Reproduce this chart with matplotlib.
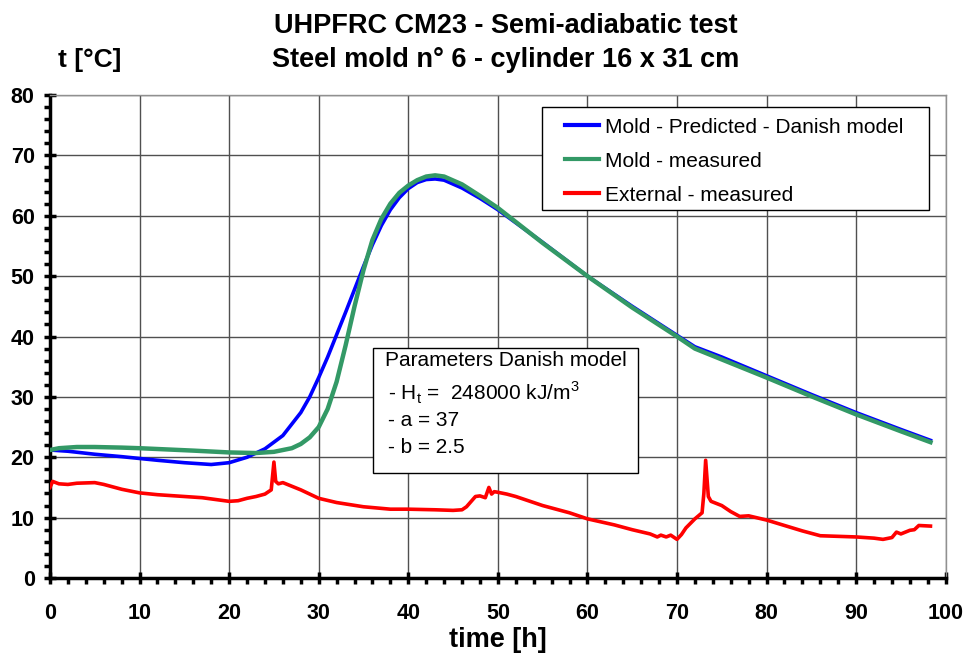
import matplotlib
matplotlib.use("Agg")
import matplotlib.pyplot as plt
from matplotlib.patches import Rectangle
from matplotlib.ticker import MultipleLocator

plt.rcParams['font.family'] = ['Liberation Sans', 'DejaVu Sans']

# Mold - predicted (Danish model)
t_pred = [0, 2, 5, 8, 10, 12, 15, 18, 20, 22, 24, 26, 28, 29, 30, 31, 32, 33, 34, 35, 36,
          37, 38, 39, 40, 41, 42, 43, 44, 46, 48, 50, 55, 60, 65, 70, 72, 75, 80, 85,
          90, 95, 98.3]
pred = [21.2, 21.0, 20.5, 20.1, 19.8, 19.5, 19.1, 18.8, 19.1, 20.0, 21.4, 23.6, 27.4, 30.0,
        33.2, 36.6, 40.3, 44.0, 47.8, 51.6, 55.2, 58.4, 61.0, 63.0, 64.5, 65.5, 66.0, 66.1,
        65.9, 64.6, 62.9, 61.0, 55.6, 50.0, 45.0, 40.2, 38.3, 36.6, 33.5, 30.4, 27.4,
        24.6, 22.8]

# Mold - measured
t_meas = [0, 1, 3, 5, 8, 10, 13, 16, 20, 23, 25, 27, 28, 29, 30, 31, 32, 33, 34, 35, 36,
          37, 38, 39, 40, 41, 42, 43, 44, 46, 48, 50, 55, 60, 65, 70, 72, 75, 80, 85,
          90, 95, 98.3]
meas = [21.2, 21.5, 21.7, 21.7, 21.6, 21.5, 21.3, 21.1, 20.8, 20.7, 20.9, 21.5, 22.2, 23.3,
        25.0, 28.0, 32.5, 38.5, 45.0, 51.0, 56.0, 59.5, 62.0, 63.8, 65.0, 65.9, 66.5,
        66.7, 66.5, 65.2, 63.3, 61.3, 55.5, 50.0, 44.8, 40.0, 38.0, 36.2, 33.2, 30.1,
        27.1, 24.3, 22.5]

# External - measured
t_ext = [0, 0.3, 1, 2, 3, 5, 6, 8, 10, 12, 15, 17, 19, 20, 21, 22, 23, 24, 24.7, 25.0,
         25.2, 25.5, 26, 27, 28, 30, 32, 35, 38, 40, 43, 45, 46, 46.5, 47.5, 48, 48.6,
         49.0, 49.3, 49.6, 50, 51, 52, 55, 58, 60, 63, 65, 67, 67.8, 68.2, 68.8, 69.3,
         70, 70.5, 71, 72, 72.8, 73.0, 73.2, 73.5, 73.8, 75, 76, 77, 78, 80, 82, 84, 86,
         88, 90, 92, 93, 94, 94.5, 95, 96, 96.5, 97, 98.3]
ext = [15.0, 16.0, 15.6, 15.5, 15.7, 15.8, 15.5, 14.7, 14.1, 13.8, 13.5, 13.3, 12.9, 12.7,
       12.8, 13.2, 13.5, 13.9, 14.6, 19.2, 16.0, 15.6, 15.8, 15.2, 14.6, 13.2, 12.5, 11.8,
       11.4, 11.4, 11.3, 11.2, 11.3, 11.8, 13.5, 13.6, 13.3, 15.0, 13.9, 14.3, 14.2, 13.9,
       13.5, 12.0, 10.8, 9.8, 8.8, 8.0, 7.3, 6.8, 7.1, 6.8, 7.1, 6.4, 7.2, 8.3, 9.8, 10.8,
       14.0, 19.5, 13.5, 12.7, 12.0, 11.0, 10.2, 10.3, 9.6, 8.7, 7.8, 7.0, 6.9, 6.8, 6.6,
       6.4, 6.7, 7.6, 7.3, 7.9, 8.0, 8.7, 8.6]

params = ["Parameters Danish model",
          r"- H$_\mathregular{t}$ =  248000 kJ/m$^\mathregular{3}$",
          "- a = 37",
          "- b = 2.5"]

fig = plt.figure(figsize=(9.65, 6.54), dpi=100)
ax = fig.add_axes([0.0518, 0.1162, 0.9282, 0.7385])

ax.plot(t_pred, pred, color='#0000FF', lw=2.6, label='Mold - Predicted - Danish model', zorder=3)
ax.plot(t_meas, meas, color='#339966', lw=3.2, label='Mold - measured', zorder=4)
ax.plot(t_ext, ext, color='#FF0000', lw=2.6, label='External - measured', zorder=3)

ax.set_xlim(0, 100)
ax.set_ylim(0, 80)
ax.xaxis.set_major_locator(MultipleLocator(10))
ax.xaxis.set_minor_locator(MultipleLocator(2))
ax.yaxis.set_major_locator(MultipleLocator(10))
ax.yaxis.set_minor_locator(MultipleLocator(2))
ax.grid(True, which='major', color='#505050', lw=1.0)
ax.set_axisbelow(True)

ax.tick_params(which='major', direction='inout', length=8, width=2.5, labelsize=15.5, pad=7)
ax.tick_params(axis='x', which='major', pad=14)
ax.tick_params(which='minor', direction='out', length=4, width=2.5)
for lab in ax.get_xticklabels() + ax.get_yticklabels():
    lab.set_fontweight('bold')

for s in ['left', 'bottom']:
    ax.spines[s].set_linewidth(2.5)
    ax.spines[s].set_color('black')
for s in ['top', 'right']:
    ax.spines[s].set_linewidth(1.0)
    ax.spines[s].set_color('#909090')

ax.set_xlabel('time [h]', fontsize=19.5, fontweight='bold', labelpad=2)

fig.text(0.524, 0.960, 'UHPFRC CM23 - Semi-adiabatic test', ha='center', va='center',
         fontsize=19.5, fontweight='bold')
fig.text(0.524, 0.909, 'Steel mold n° 6 - cylinder 16 x 31 cm', ha='center', va='center',
         fontsize=19.5, fontweight='bold')
fig.text(0.093, 0.909, 't [°C]', ha='center', va='center', fontsize=19, fontweight='bold')

# legend frame drawn separately, legend itself without frame
ax.add_patch(Rectangle((0.549, 0.762), 0.432, 0.213, transform=ax.transAxes,
                       facecolor='white', edgecolor='black', lw=1.0, zorder=5))
leg = ax.legend(loc='upper left', bbox_to_anchor=(0.575, 0.953), fontsize=15,
                frameon=False, handlelength=1.65, handletextpad=0.25,
                borderpad=0, labelspacing=0.72, borderaxespad=0)
leg.set_zorder(6)
for line in leg.get_lines():
    line.set_linewidth(3.0)

ax.add_patch(Rectangle((0.3605, 0.217), 0.2955, 0.259, transform=ax.transAxes,
                       facecolor='white', edgecolor='black', lw=1.0, zorder=5))
ys = [0.451, 0.383, 0.326, 0.270]
xs = [0.374, 0.377, 0.377, 0.377]
for x, y, s in zip(xs, ys, params):
    ax.text(x, y, s, transform=ax.transAxes, fontsize=15, ha='left', va='center', zorder=6)

fig.savefig('out.png', dpi=100)
